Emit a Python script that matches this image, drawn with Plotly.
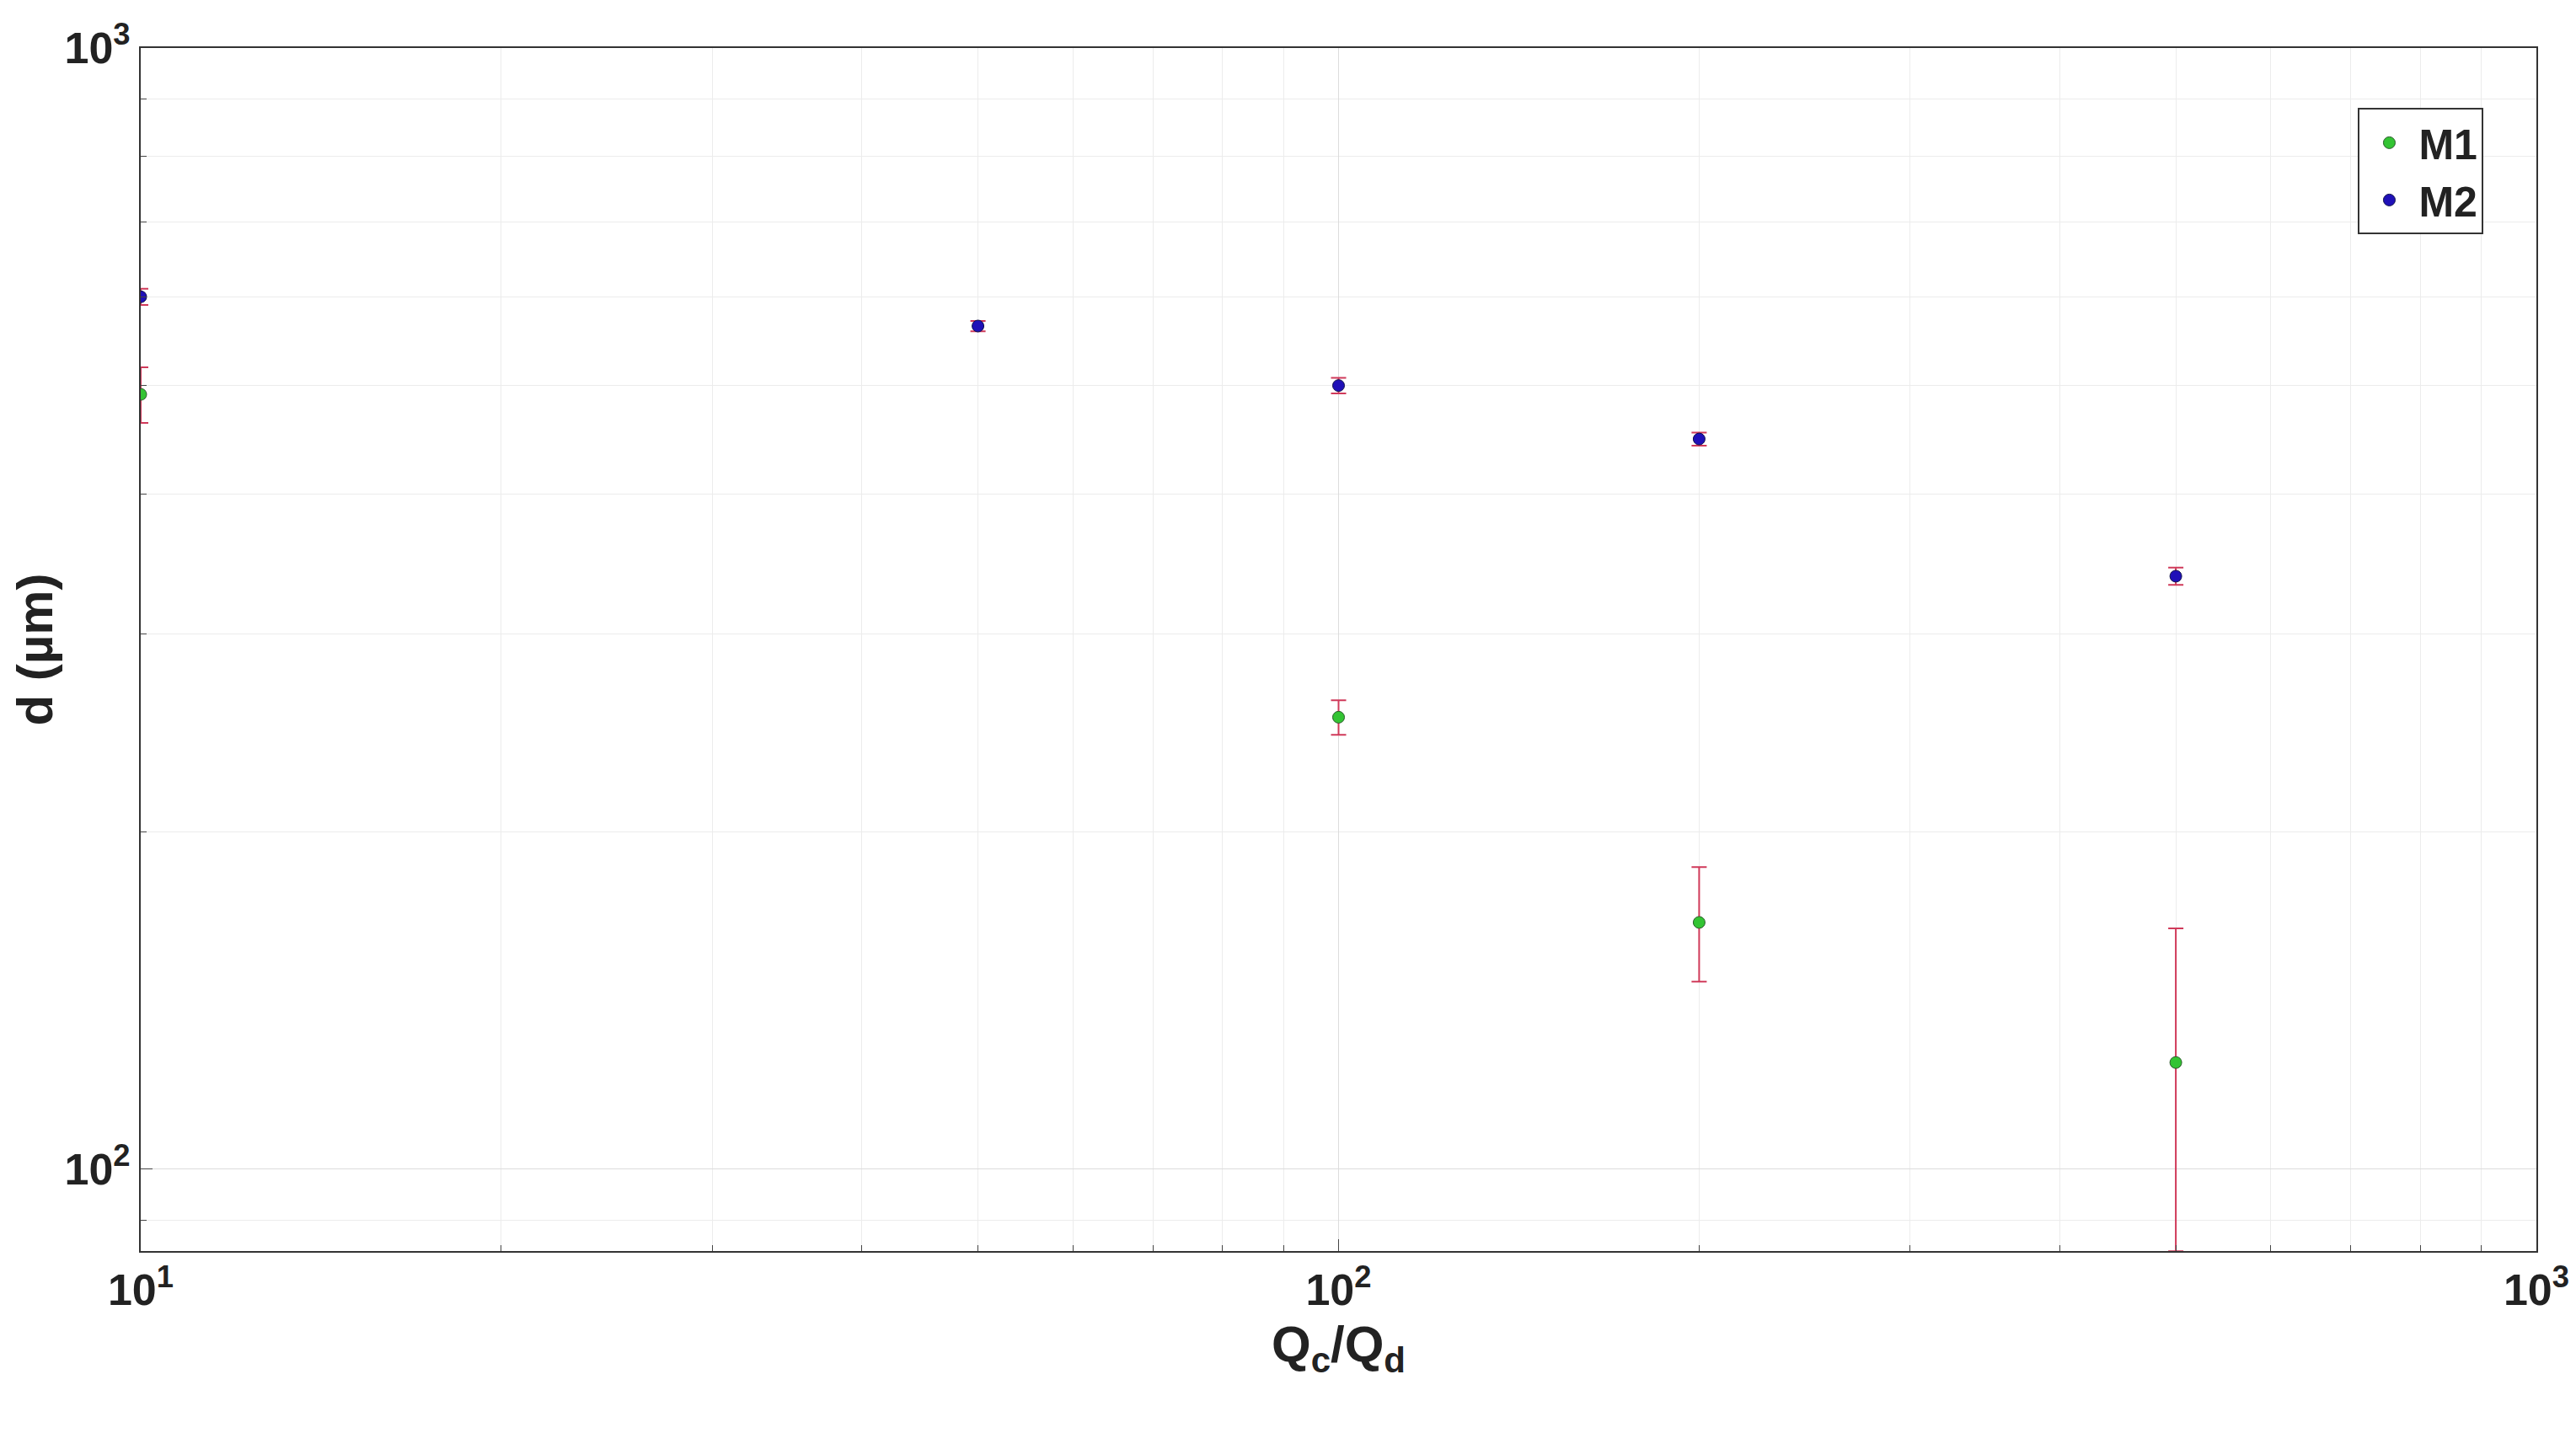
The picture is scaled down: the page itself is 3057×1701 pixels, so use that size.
import plotly.graph_objects as go

ratio_m1 = [10, 100, 200, 500]
d_m1 = [491, 253, 166, 124.5]
err_up_m1 = [28, 9, 20, 39.5]
err_dn_m1 = [28, 9, 19, 40]

ratio_m2 = [10, 50, 100, 200, 500]
d_m2 = [600, 565, 500, 448, 338]
err_m2 = [10, 6, 8, 6, 6]

xt = [10, 100, 1000]
xt_text = ["<b>10<sup>1</sup></b>", "<b>10<sup>2</sup></b>", "<b>10<sup>3</sup></b>"]
yt = [100, 1000]
yt_text = ["<b>10<sup>2</sup></b>", "<b>10<sup>3</sup></b>"]
x_minor = [20, 30, 40, 50, 60, 70, 80, 90, 200, 300, 400, 500, 600, 700, 800, 900]
y_minor = [90, 200, 300, 400, 500, 600, 700, 800, 900]

fig = go.Figure()
fig.add_trace(go.Scatter(x=ratio_m1, y=d_m1, mode="markers", name="<b>M1</b>",
    marker=dict(color="#33c433", size=14, line=dict(color="#2a5a2a", width=1)),
    error_y=dict(type="data", symmetric=False, array=err_up_m1, arrayminus=err_dn_m1,
                 color="#d03a5a", thickness=2, width=9)))
fig.add_trace(go.Scatter(x=ratio_m2, y=d_m2, mode="markers", name="<b>M2</b>",
    marker=dict(color="#1f10b8", size=14, line=dict(color="#10104a", width=1)),
    error_y=dict(type="data", array=err_m2, color="#d03a5a", thickness=2, width=9)))

ax = dict(type="log", showline=True, linecolor="#333", linewidth=2, mirror=True,
          gridcolor="#dcdcdc", gridwidth=1, ticks="inside", ticklen=14,
          tickfont=dict(family="Liberation Sans", size=52, color="#222"),
          zeroline=False)
fig.update_xaxes(**ax, range=[1, 3], tickvals=xt, ticktext=xt_text,
                 minor=dict(tickvals=x_minor, showgrid=True, gridcolor="#ececec", ticks="inside", ticklen=7),
                 title=dict(text="<b>Q<sub>c</sub>/Q<sub>d</sub></b>", font=dict(family="Liberation Sans", size=60, color="#222")))
fig.update_yaxes(**ax, range=[1.927, 3], tickvals=yt, ticktext=yt_text,
                 minor=dict(tickvals=y_minor, showgrid=True, gridcolor="#ececec", ticks="inside", ticklen=7),
                 title=dict(text="<b>d (µm)</b>", font=dict(family="Liberation Sans", size=60, color="#222")))
fig.update_layout(width=3057, height=1701, plot_bgcolor="white", paper_bgcolor="white",
    margin=dict(l=138, r=55, t=43, b=224),
    font=dict(family="Liberation Sans"),
    legend=dict(x=0.978, y=0.95, xanchor="right", yanchor="top", bordercolor="#333", borderwidth=2,
                bgcolor="white", font=dict(size=50, color="#222", family="Liberation Sans"),
                itemwidth=60))
fig.write_html("out.html")
